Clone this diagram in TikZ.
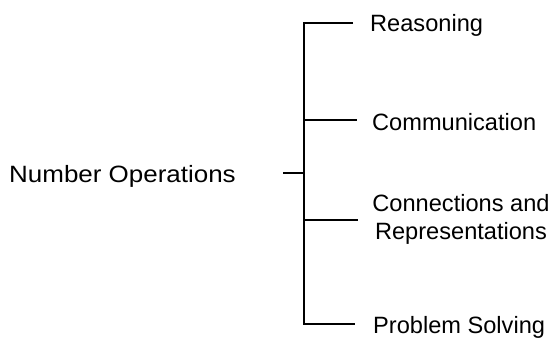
\documentclass[tikz,border=0pt]{standalone}
\usepackage{fontspec}
\setmainfont{Liberation Sans}
\newcommand\lblfont{\fontsize{23.6}{28}\selectfont}
\begin{document}
\begin{tikzpicture}[x=1pt,y=-1pt,
  br/.style={line width=2.3pt, line join=miter},
  lbl/.style={inner sep=0pt, anchor=base west, font=\lblfont}]
\useasboundingbox (0,0) rectangle (553,339);
% labels
\node[lbl] (root) at (9,182) {\scalebox{1.1}[1]{Number Operations}};
\node[lbl] (reas) at (370,32) {Reasoning};
\node[lbl] (comm) at (372,131) {Communication};
\node[inner sep=0pt, anchor=north, align=center, font=\lblfont] (conn) at (461,194.5) {Connections and\\Representations};
\node[lbl] (prob) at (373,333) {Problem Solving};
% trunk coordinates
\coordinate (top) at (304,23);
\coordinate (bot) at (304,324);
\coordinate (mid) at (304,173);
\coordinate (stub) at (283,173);
\coordinate (rEnd) at (353,23);
\coordinate (cStart) at (304,120);
\coordinate (cEnd) at (357,120);
\coordinate (kStart) at (304,220);
\coordinate (kEnd) at (358,220);
\coordinate (pEnd) at (355,324);
\draw[br] (rEnd) -- (top) -- (bot) -- (pEnd);
\draw[br] (stub) -- (mid);
\draw[br] (cStart) -- (cEnd);
\draw[br] (kStart) -- (kEnd);
\end{tikzpicture}
\end{document}
